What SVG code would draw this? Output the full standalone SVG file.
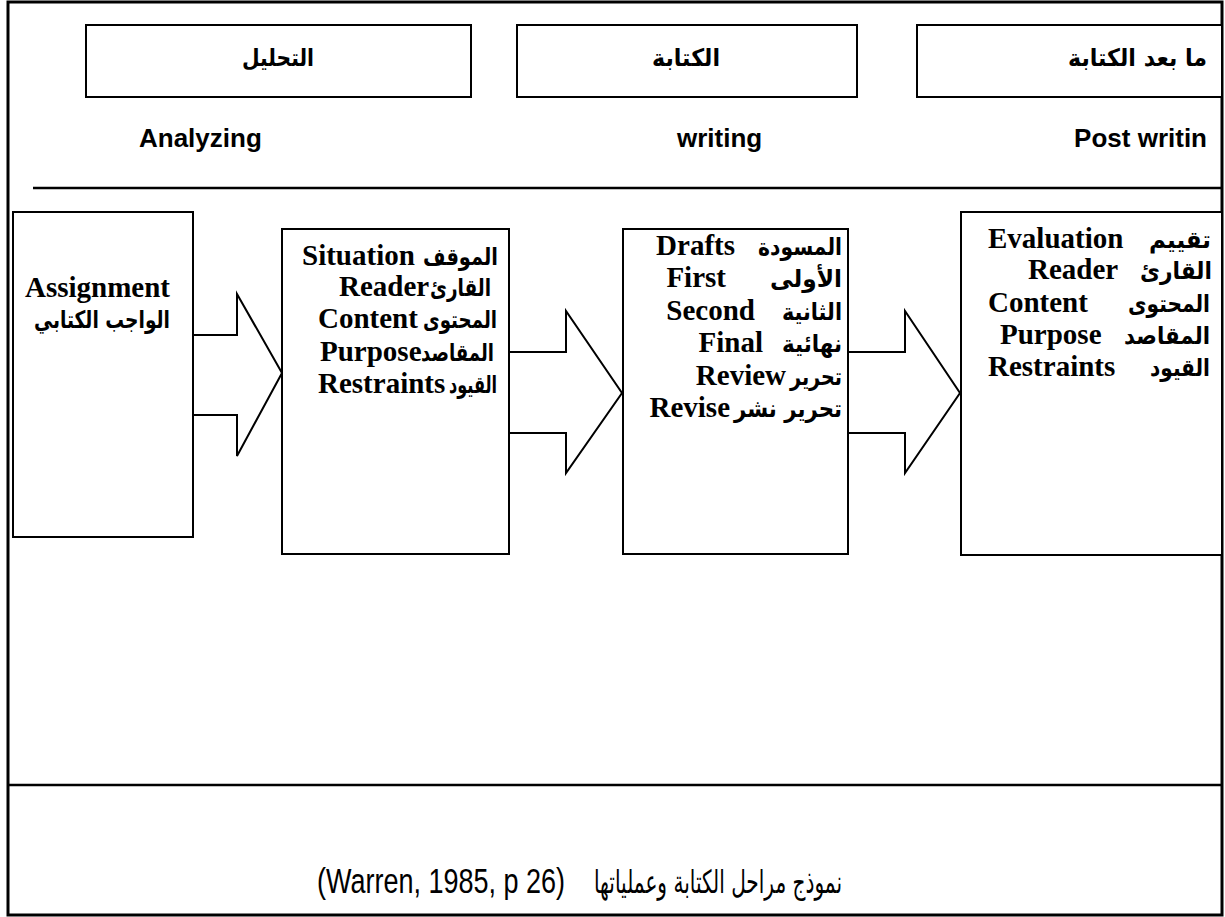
<svg xmlns="http://www.w3.org/2000/svg" width="1225" height="917" viewBox="0 0 1225 917">
  <style>
    .frame { fill: none; stroke: #000; stroke-width: 3; }
    .rule { stroke: #000; stroke-width: 2.5; }
    .box { fill: #fff; stroke: #000; stroke-width: 2; }
    .arrow { fill: #fff; stroke: #000; stroke-width: 2; stroke-linejoin: miter; }
    .phase { font-family: "DejaVu Sans", "Liberation Sans", sans-serif; font-weight: bold; font-size: 24px; fill: #000; }
    .phase-en { font-family: "Liberation Sans", Arial, sans-serif; font-weight: bold; font-size: 26px; fill: #000; }
    .en { font-family: "Liberation Serif", "Times New Roman", serif; font-weight: bold; font-size: 29px; fill: #000; }
    .ar { font-family: "DejaVu Sans", "Liberation Sans", sans-serif; font-weight: bold; font-size: 24px; fill: #000; }
    .cap-en { font-family: "Liberation Sans", Arial, sans-serif; font-size: 27px; fill: #000; }
    .cap-ar { font-family: "DejaVu Sans", "Liberation Sans", sans-serif; font-size: 32px; fill: #000; }
  </style>

  <rect width="1225" height="917" fill="#fff"/>

  <!-- page frame and dividing rules -->
  <g id="frame">
    <rect class="frame" x="8" y="2" width="1214" height="913"/>
    <line class="rule" x1="33" y1="188" x2="1222" y2="188"/>
    <line class="rule" x1="8" y1="785" x2="1222" y2="785"/>
  </g>

  <!-- phase headings -->
  <g id="phase-analyzing">
    <rect class="box" x="86" y="25" width="385" height="72"/>
    <text class="phase" x="278" y="66" text-anchor="middle" textLength="72" lengthAdjust="spacingAndGlyphs">التحليل</text>
    <text class="phase-en" x="139" y="147">Analyzing</text>
  </g>
  <g id="phase-writing">
    <rect class="box" x="517" y="25" width="340" height="72"/>
    <text class="phase" x="686" y="66" text-anchor="middle" textLength="68" lengthAdjust="spacingAndGlyphs">الكتابة</text>
    <text class="phase-en" x="677" y="147">writing</text>
  </g>
  <g id="phase-post">
    <rect class="box" x="917" y="25" width="305" height="72"/>
    <text class="phase" x="1207" y="66" text-anchor="end" textLength="139" lengthAdjust="spacingAndGlyphs">ما بعد الكتابة</text>
    <text class="phase-en" x="1207" y="147" text-anchor="end">Post writin</text>
  </g>

  <!-- block arrows between stages -->
  <g id="connectors">
    <polygon class="arrow" points="193,335 237,335 237,294 282,373 237,456 237,415 193,415"/>
    <polygon class="arrow" points="509,352 566,352 566,311 622,393 566,473 566,433 509,433"/>
    <polygon class="arrow" points="848,352 905,352 905,311 960,393 905,473 905,433 848,433"/>
  </g>

  <!-- stage boxes -->
  <g id="node-assignment">
    <rect class="box" x="13" y="212" width="180" height="325"/>
    <text class="en" x="25" y="297">Assignment</text>
    <text class="ar" x="170" y="328" text-anchor="end" textLength="136" lengthAdjust="spacingAndGlyphs">الواجب الكتابي</text>
  </g>

  <g id="node-planning">
    <rect class="box" x="282" y="229" width="227" height="325"/>
    <text class="en" x="302" y="265">Situation</text>
    <text class="ar" x="498" y="265" text-anchor="end" textLength="75" lengthAdjust="spacingAndGlyphs">الموقف</text>
    <text class="en" x="339" y="296">Reader</text>
    <text class="ar" x="491" y="296" text-anchor="end" textLength="61" lengthAdjust="spacingAndGlyphs">القارئ</text>
    <text class="en" x="318" y="328">Content</text>
    <text class="ar" x="497" y="328" text-anchor="end" textLength="74" lengthAdjust="spacingAndGlyphs">المحتوى</text>
    <text class="en" x="320" y="361">Purpose</text>
    <text class="ar" x="494" y="361" text-anchor="end" textLength="73" lengthAdjust="spacingAndGlyphs">المقاصد</text>
    <text class="en" x="318" y="393">Restraints</text>
    <text class="ar" x="497" y="393" text-anchor="end" textLength="48" lengthAdjust="spacingAndGlyphs">القيود</text>
  </g>

  <g id="node-drafting">
    <rect class="box" x="623" y="229" width="225" height="325"/>
    <text class="en" x="735" y="255" text-anchor="end">Drafts</text>
    <text class="ar" x="842" y="255" text-anchor="end" textLength="84" lengthAdjust="spacingAndGlyphs">المسودة</text>
    <text class="en" x="726" y="287" text-anchor="end">First</text>
    <text class="ar" x="842" y="287" text-anchor="end" textLength="72" lengthAdjust="spacingAndGlyphs">الأولى</text>
    <text class="en" x="755" y="320" text-anchor="end">Second</text>
    <text class="ar" x="842" y="320" text-anchor="end" textLength="60" lengthAdjust="spacingAndGlyphs">الثانية</text>
    <text class="en" x="763" y="352" text-anchor="end">Final</text>
    <text class="ar" x="842" y="352" text-anchor="end" textLength="60" lengthAdjust="spacingAndGlyphs">نهائية</text>
    <text class="en" x="786" y="385" text-anchor="end">Review</text>
    <text class="ar" x="842" y="385" text-anchor="end" textLength="52" lengthAdjust="spacingAndGlyphs">تحرير</text>
    <text class="en" x="730" y="417" text-anchor="end">Revise</text>
    <text class="ar" x="842" y="417" text-anchor="end" textLength="108" lengthAdjust="spacingAndGlyphs">تحرير نشر</text>
  </g>

  <g id="node-evaluation">
    <rect class="box" x="961" y="212" width="261" height="343"/>
    <text class="en" x="988" y="248">Evaluation</text>
    <text class="ar" x="1211" y="248" text-anchor="end" textLength="62" lengthAdjust="spacingAndGlyphs">تقييم</text>
    <text class="en" x="1028" y="279">Reader</text>
    <text class="ar" x="1212" y="279" text-anchor="end" textLength="72" lengthAdjust="spacingAndGlyphs">القارئ</text>
    <text class="en" x="988" y="312">Content</text>
    <text class="ar" x="1210" y="312" text-anchor="end" textLength="82" lengthAdjust="spacingAndGlyphs">المحتوى</text>
    <text class="en" x="1000" y="344">Purpose</text>
    <text class="ar" x="1210" y="344" text-anchor="end" textLength="86" lengthAdjust="spacingAndGlyphs">المقاصد</text>
    <text class="en" x="988" y="376">Restraints</text>
    <text class="ar" x="1210" y="376" text-anchor="end" textLength="60" lengthAdjust="spacingAndGlyphs">القيود</text>
  </g>

  <!-- figure caption: condensed citation on the left, Arabic title on the right -->
  <g id="caption">
    <text class="cap-en" transform="translate(317,893) scale(1,1.3)">(Warren, 1985, p 26)</text>
    <text class="cap-ar" x="594" y="893" textLength="248" lengthAdjust="spacingAndGlyphs">نموذج مراحل الكتابة وعملياتها</text>
  </g>
</svg>
